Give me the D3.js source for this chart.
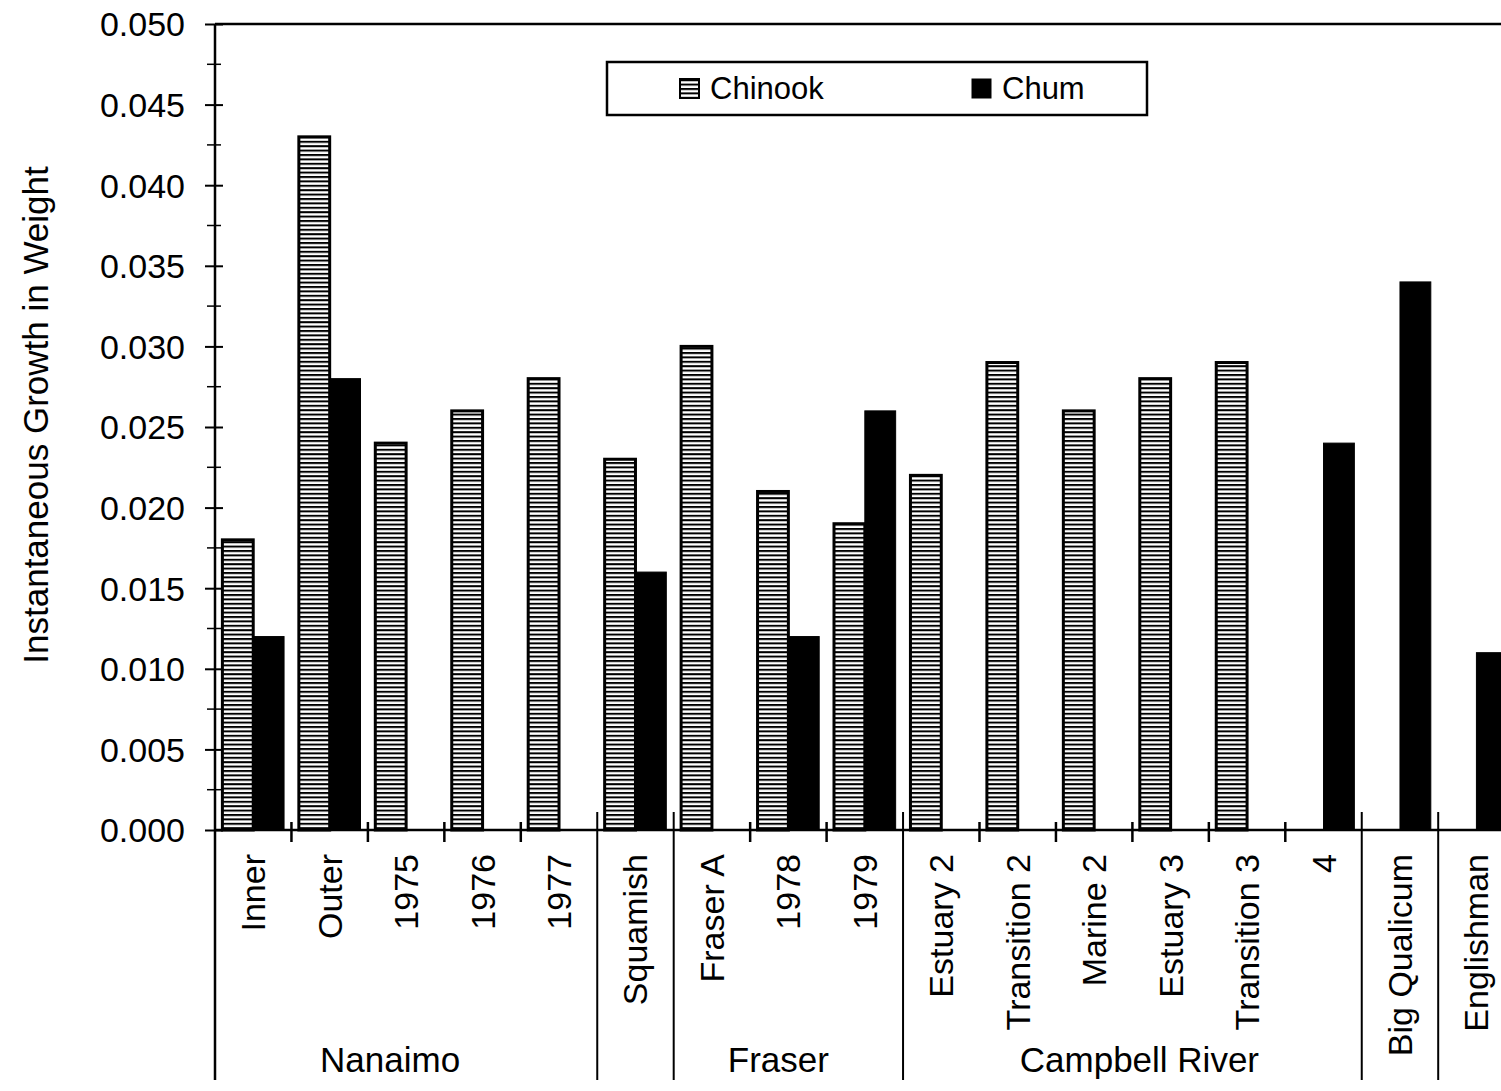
<!DOCTYPE html>
<html>
<head>
<meta charset="utf-8">
<script src="https://cdn.jsdelivr.net/npm/d3@7"></script>
<style>
  html, body { margin: 0; padding: 0; background: #fff; }
  svg { display: block; font-family: "Liberation Sans", Arial, Helvetica, sans-serif; }
</style>
</head>
<body>
<svg id="chart" width="1501" height="1091"></svg>
<script>
// ---- data ----
const categories = ["Inner", "Outer", "1975", "1976", "1977", "Squamish", "Fraser A", "1978", "1979",
  "Estuary 2", "Transition 2", "Marine 2", "Estuary 3", "Transition 3", "4", "Big Qualicum", "Englishman"];
const chinook = [0.018, 0.043, 0.024, 0.026, 0.028, 0.023, 0.030, 0.021, 0.019,
  0.022, 0.029, 0.026, 0.028, 0.029, null, null, null];
const chum = [0.012, 0.028, null, null, null, 0.016, null, 0.012, 0.026,
  null, null, null, null, null, 0.024, 0.034, 0.011];
const seriesNames = ["Chinook", "Chum"];
const groupNames = ["Nanaimo", "", "Fraser", "Campbell River", "", ""];
const groupStarts = [0, 5, 6, 9, 15, 16];
const groupEnds = [5, 6, 9, 15, 16, 17];
const yTicks = [0, 0.005, 0.010, 0.015, 0.020, 0.025, 0.030, 0.035, 0.040, 0.045, 0.050];
const yTitle = "Instantaneous Growth in Weight";

// ---- layout ----
const svg = d3.select("#chart");
const x0 = 215, step = 76.45;
const groupLabelShift = [-16, 0, -10, 7, 0, 0];
const x = d3.scaleBand().domain(categories).range([x0, x0 + step * categories.length]).paddingInner(0).paddingOuter(0);
const xs = d3.scaleBand().domain(seriesNames).range([0, x.bandwidth()]).paddingInner(0).paddingOuter(0.24);
const y = d3.scaleLinear().domain([0, 0.05]).range([830, 24]);
const groups = groupNames.map((n, i) => ({ name: n, start: groupStarts[i], end: groupEnds[i], shift: groupLabelShift[i] }));

// pattern
const defs = svg.append("defs");
const pat = defs.append("pattern").attr("id", "hstripe").attr("patternUnits", "userSpaceOnUse")
  .attr("width", 8).attr("height", 4.4);
pat.append("rect").attr("width", 8).attr("height", 4.4).attr("fill", "#fff");
pat.append("rect").attr("y", 0).attr("width", 8).attr("height", 2).attr("fill", "#000");

const fills = { Chinook: "url(#hstripe)", Chum: "#000" };

// bars
const rows = categories.map((c, i) => ({ cat: c, values: [
  { s: "Chinook", v: chinook[i] }, { s: "Chum", v: chum[i] }] }));

const g = svg.append("g");
g.selectAll("g.cat").data(rows).join("g").attr("class", "cat")
  .attr("transform", d => `translate(${x(d.cat)},0)`)
  .selectAll("rect").data(d => d.values.filter(v => v.v != null)).join("rect")
  .attr("x", d => xs(d.s))
  .attr("width", xs.bandwidth())
  .attr("y", d => y(d.v))
  .attr("height", d => y(0) - y(d.v))
  .attr("fill", d => fills[d.s])
  .attr("stroke", "#000")
  .attr("stroke-width", d => d.s === "Chinook" ? 3 : 1);

// top border & x axis line
svg.append("line").attr("x1", x0).attr("x2", 1501).attr("y1", y(0.05)).attr("y2", y(0.05))
  .attr("stroke", "#000").attr("stroke-width", 2.5);
svg.append("line").attr("x1", x0).attr("x2", 1501).attr("y1", y(0)).attr("y2", y(0))
  .attr("stroke", "#000").attr("stroke-width", 2.5);

// y axis line (extends down to group area)
svg.append("line").attr("x1", x0).attr("x2", x0).attr("y1", y(0.05)).attr("y2", 1080)
  .attr("stroke", "#000").attr("stroke-width", 2.5);

// y ticks
const yAxis = d3.axisLeft(y).tickValues(yTicks).tickFormat(d3.format(".3f")).tickSize(10).tickPadding(20);
const ya = svg.append("g").attr("transform", `translate(${x0},0)`).call(yAxis);
ya.select(".domain").remove();
ya.selectAll(".tick line").attr("x2", -10).attr("x1", 8).attr("stroke-width", 2);
ya.selectAll(".tick text").attr("font-size", 34).attr("fill", "#000")
  .attr("font-family", "Liberation Sans, Arial, sans-serif").attr("dy", "0.35em");
// minor ticks
const minor = d3.range(1, 20, 2).map(k => k * 0.0025);
svg.append("g").selectAll("line").data(minor).join("line")
  .attr("x1", x0 - 8).attr("x2", x0 + 6).attr("y1", d => y(d)).attr("y2", d => y(d))
  .attr("stroke", "#000").attr("stroke-width", 1.5);

// category boundary ticks & group separators
const boundaries = d3.range(1, categories.length + 1);
const groupBounds = new Set(groups.map(gr => gr.start).concat(groups.map(gr => gr.end)));
const bx = i => x0 + i * x.step();
svg.append("g").selectAll("line").data(boundaries).join("line")
  .attr("x1", bx).attr("x2", bx)
  .attr("y1", i => groupBounds.has(i) ? 812 : 822)
  .attr("y2", i => groupBounds.has(i) ? 1080 : 842)
  .attr("stroke", "#000").attr("stroke-width", i => groupBounds.has(i) ? 2 : 2.5);

// category labels
svg.append("g").selectAll("text").data(categories).join("text")
  .attr("transform", d => `translate(${x(d) + x.bandwidth() / 2 + 12},854) rotate(-90)`)
  .attr("text-anchor", "end")
  .attr("font-size", 34).attr("fill", "#000")
  .text(d => d);

// group labels
svg.append("g").selectAll("text").data(groups.filter(gr => gr.name)).join("text")
  .attr("x", d => (bx(d.start) + bx(d.end)) / 2 + d.shift)
  .attr("y", 1072)
  .attr("text-anchor", "middle")
  .attr("font-size", 35).attr("fill", "#000")
  .text(d => d.name);

// y title
svg.append("text")
  .attr("transform", `translate(48,415) rotate(-90)`)
  .attr("text-anchor", "middle")
  .attr("font-size", 35).attr("fill", "#000")
  .text(yTitle);

// legend
const lg = svg.append("g");
lg.append("rect").attr("x", 607).attr("y", 62).attr("width", 540).attr("height", 53)
  .attr("fill", "#fff").attr("stroke", "#000").attr("stroke-width", 2.5);
const legX = [680, 972];
seriesNames.forEach((s, i) => {
  lg.append("rect").attr("x", legX[i]).attr("y", 79).attr("width", 19).attr("height", 19)
    .attr("fill", fills[s]).attr("stroke", "#000").attr("stroke-width", s === "Chinook" ? 2 : 1);
  lg.append("text").attr("x", legX[i] + 30).attr("y", 99).attr("font-size", 31).attr("fill", "#000").text(s);
});
</script>
</body>
</html>
